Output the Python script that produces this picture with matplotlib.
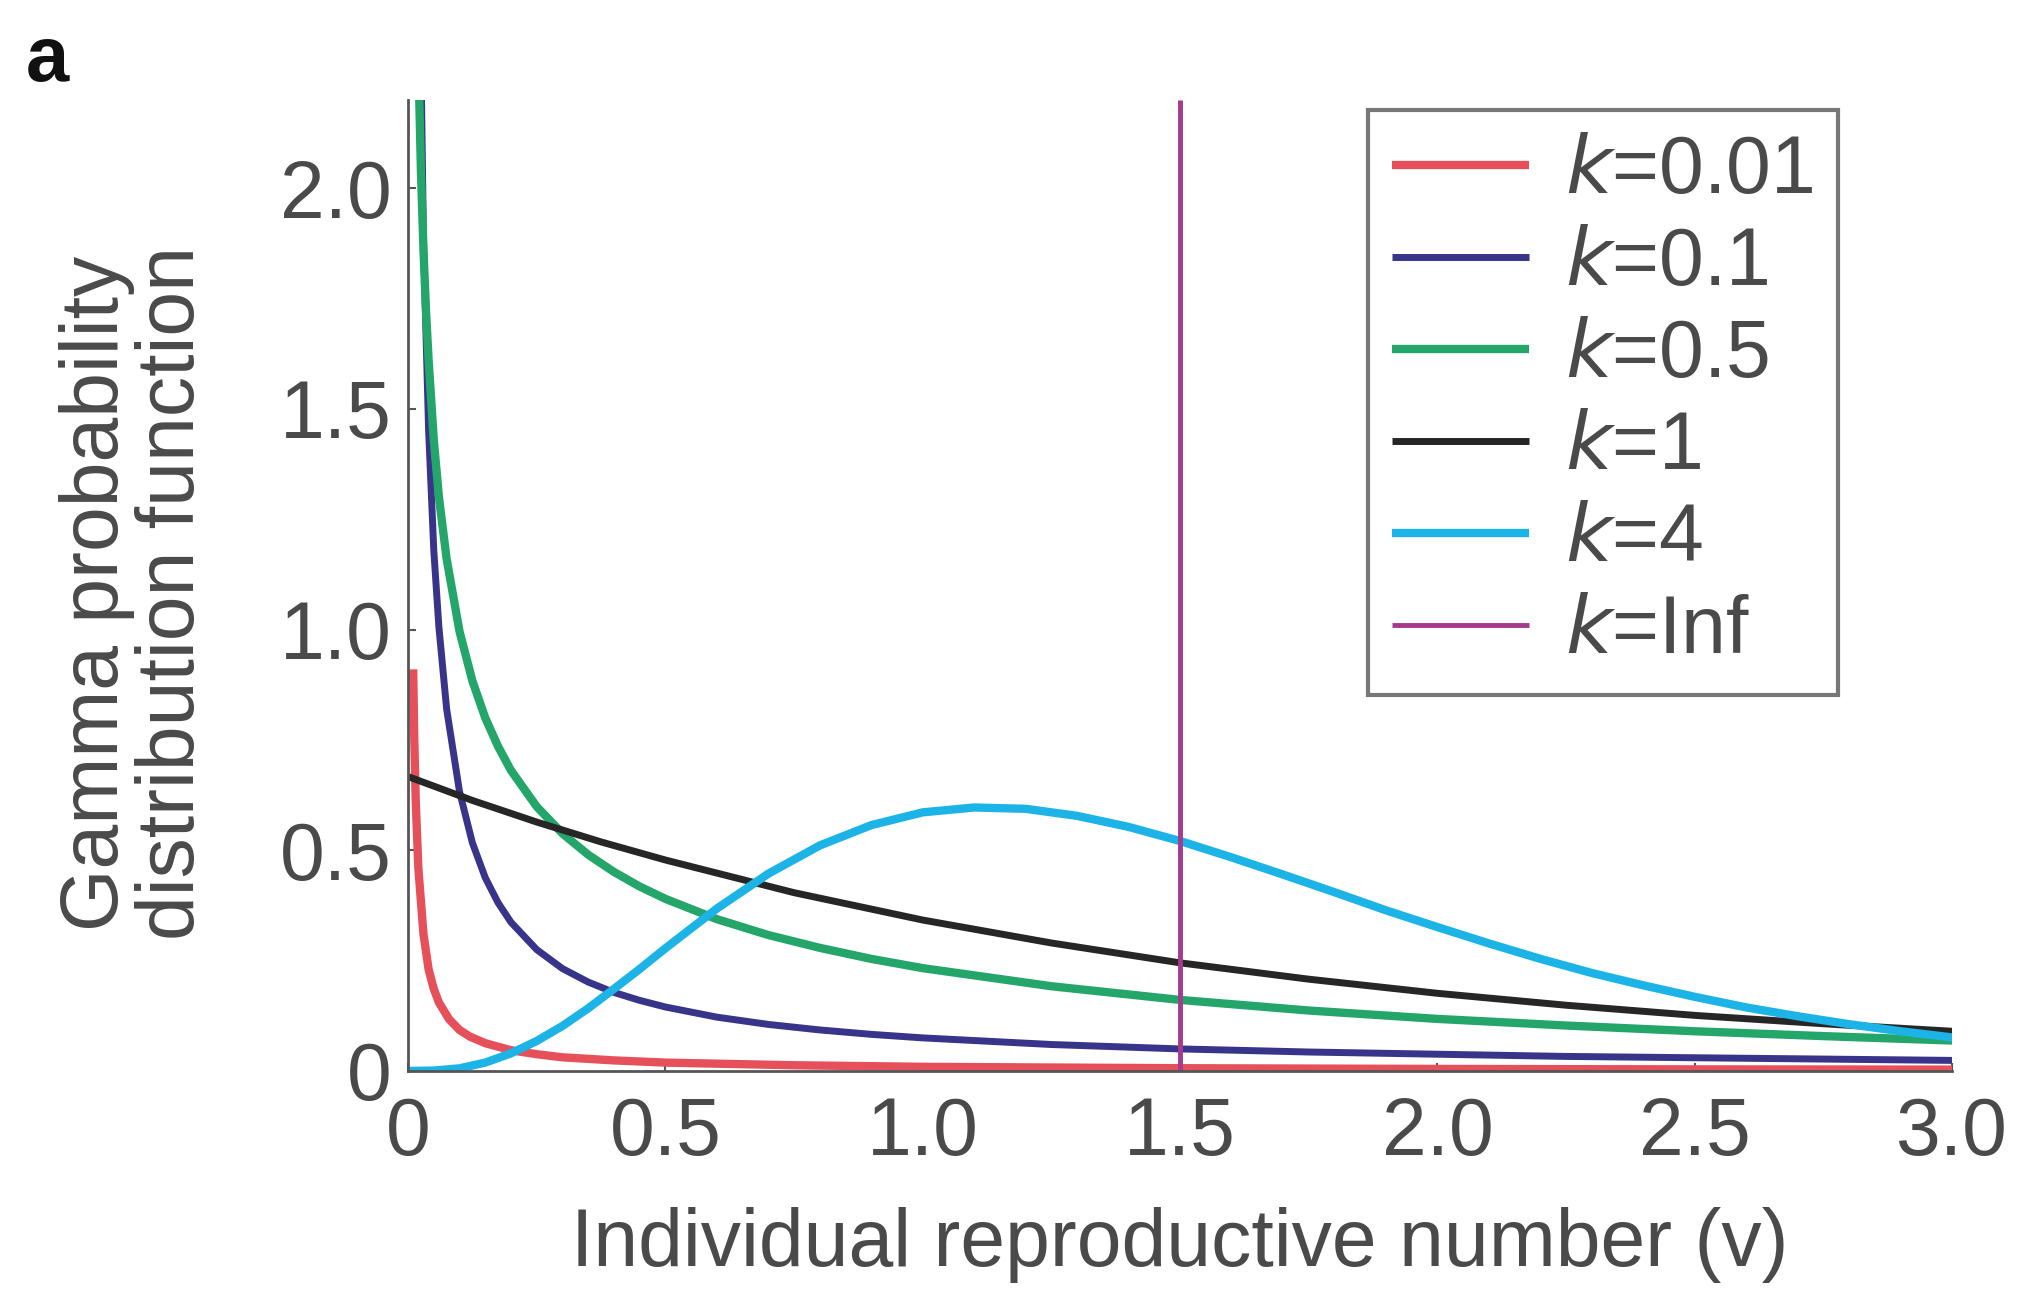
import matplotlib
matplotlib.use("Agg")
import matplotlib.pyplot as plt

plt.rcParams["font.family"] = ["Liberation Sans", "DejaVu Sans"]

# values (gamma pdf, mean 1.5)
x_k001 = [0.01, 0.012, 0.015, 0.02, 0.03, 0.04, 0.05, 0.06, 0.08, 0.1, 0.12, 0.15, 0.2, 0.25, 0.3, 0.4, 0.5, 0.75, 1.0, 1.5, 2.0, 2.5, 3.0]
y_k001 = [0.91, 0.76, 0.61, 0.46, 0.31, 0.23, 0.186, 0.155, 0.117, 0.093, 0.078, 0.063, 0.047, 0.038, 0.031, 0.024, 0.019, 0.013, 0.0095, 0.0063, 0.0047, 0.0037, 0.0031]

x_k01 = [0.01, 0.02, 0.03, 0.04, 0.05, 0.06, 0.075, 0.1, 0.125, 0.15, 0.175, 0.2, 0.25, 0.3, 0.35, 0.4, 0.45, 0.5, 0.6, 0.7, 0.8, 0.9, 1.0, 1.25, 1.5, 1.75, 2.0, 2.25, 2.5, 2.75, 3.0]
y_k01 = [5.06, 2.72, 1.88, 1.45, 1.18, 1.005, 0.82, 0.633, 0.517, 0.438, 0.381, 0.337, 0.275, 0.232, 0.2015, 0.178, 0.160, 0.145, 0.122, 0.1055, 0.093, 0.083, 0.075, 0.060, 0.050, 0.043, 0.038, 0.033, 0.030, 0.027, 0.024]

x_k05 = [0.01, 0.02, 0.025, 0.03, 0.035, 0.04, 0.05, 0.06, 0.075, 0.1, 0.125, 0.15, 0.175, 0.2, 0.25, 0.3, 0.35, 0.4, 0.45, 0.5, 0.6, 0.7, 0.8, 0.9, 1.0, 1.25, 1.5, 1.75, 2.0, 2.25, 2.5, 2.75, 3.0]
y_k05 = [3.25, 2.29, 2.04, 1.86, 1.72, 1.61, 1.43, 1.30, 1.16, 0.996, 0.884, 0.800, 0.735, 0.681, 0.599, 0.538, 0.490, 0.451, 0.418, 0.390, 0.344, 0.308, 0.279, 0.254, 0.233, 0.192, 0.161, 0.137, 0.118, 0.103, 0.090, 0.079, 0.069]

x_k1 = [0, 0.125, 0.25, 0.375, 0.5, 0.75, 1.0, 1.25, 1.5, 1.75, 2.0, 2.25, 2.5, 2.75, 3.0]
y_k1 = [0.667, 0.613, 0.564, 0.519, 0.478, 0.404, 0.342, 0.290, 0.245, 0.208, 0.176, 0.149, 0.126, 0.107, 0.090]

x_k4 = [0, 0.05, 0.1, 0.15, 0.2, 0.25, 0.3, 0.35, 0.4, 0.45, 0.5, 0.6, 0.7, 0.8, 0.9, 1.0, 1.1, 1.2, 1.3, 1.4, 1.5, 1.6, 1.7, 1.8, 1.9, 2.0, 2.1, 2.2, 2.3, 2.4, 2.5, 2.6, 2.7, 2.8, 2.9, 3.0]
y_k4 = [0, 0.001, 0.006, 0.019, 0.040, 0.068, 0.102, 0.142, 0.186, 0.231, 0.278, 0.368, 0.447, 0.511, 0.557, 0.586, 0.597, 0.594, 0.578, 0.553, 0.521, 0.484, 0.445, 0.405, 0.364, 0.326, 0.289, 0.254, 0.222, 0.194, 0.168, 0.144, 0.124, 0.106, 0.090, 0.076]

x_kinf = [1.5, 1.5]
y_kinf = [0, 2.2]

labels = ["$k$=0.01", "$k$=0.1", "$k$=0.5", "$k$=1", "$k$=4", "$k$=Inf"]
colors = ["#e5505a", "#37348a", "#24a66b", "#262626", "#1cb3e6", "#a33a8e"]
widths = [6.0, 5.0, 6.0, 5.0, 6.0, 3.5]

xticks = [0, 0.5, 1.0, 1.5, 2.0, 2.5, 3.0]
xticklabels = ["0", "0.5", "1.0", "1.5", "2.0", "2.5", "3.0"]
yticks = [0, 0.5, 1.0, 1.5, 2.0]
yticklabels = ["0", "0.5", "1.0", "1.5", "2.0"]

FS = 58
GREY = "#4a4a4a"

fig = plt.figure(figsize=(20.23, 12.93), dpi=100)
ax = fig.add_axes([0.2017, 0.1717, 0.7633, 0.751])

series = [(x_k001, y_k001), (x_k01, y_k01), (x_k05, y_k05),
          (x_k1, y_k1), (x_k4, y_k4), (x_kinf, y_kinf)]
for (xs, ys), lab, c, lw in zip(series, labels, colors, widths):
    ax.plot(xs, ys, color=c, lw=lw, label=lab, solid_capstyle="butt",
            solid_joinstyle="round")

ax.set_xlim(0, 3.0)
ax.set_ylim(0, 2.2)
ax.set_xticks(xticks)
ax.set_xticklabels(xticklabels)
ax.set_yticks(yticks)
ax.set_yticklabels(yticklabels)
ax.tick_params(direction="in", length=6, width=1.5, labelsize=FS,
               labelcolor=GREY, color="#555555")
ax.tick_params(axis="y", pad=12)
ax.tick_params(axis="x", pad=18)
for s in ["top", "right"]:
    ax.spines[s].set_visible(False)
for s in ["left", "bottom"]:
    ax.spines[s].set_color("#555555")
    ax.spines[s].set_linewidth(2)

fig.text(0.583, 0.037, "Individual reproductive number (v)", fontsize=FS,
         color=GREY, ha="center", va="center")
fig.text(0.0665, 0.5414, "Gamma probability\ndistribution function",
         fontsize=FS, color=GREY, ha="center", va="center", rotation=90,
         linespacing=1.0, multialignment="center")

leg = ax.legend(loc="upper right", bbox_to_anchor=(0.926, 0.99),
                borderaxespad=0, fontsize=FS,
                frameon=True, fancybox=False, edgecolor="#555555",
                handlelength=1.7, handletextpad=0.45, labelspacing=0.2,
                borderpad=0.3)
leg.get_frame().set_linewidth(3)
for t in leg.get_texts():
    t.set_color(GREY)

fig.text(0.0129, 0.937, "a", fontsize=56, fontweight="bold", color="#111111")

fig.savefig("out.png", dpi=100)
